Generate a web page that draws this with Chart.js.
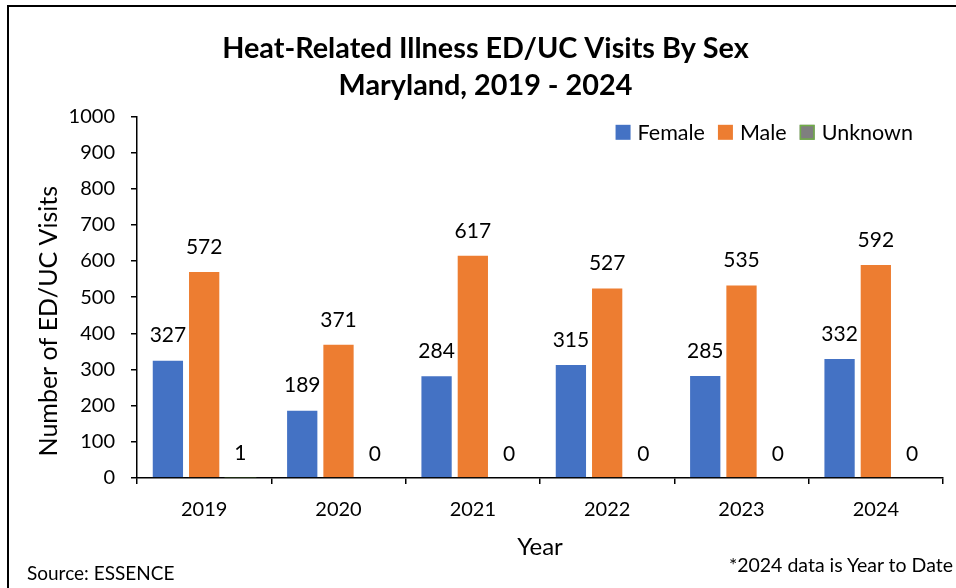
<!DOCTYPE html>
<html><head><meta charset="utf-8">
<script src="https://cdn.jsdelivr.net/npm/chart.js@4.4.1/dist/chart.umd.min.js"></script>
<style>
html,body{margin:0;padding:0;background:#fff;}
#wrap{position:relative;width:956px;height:588px;overflow:hidden;font-family:Lato,sans-serif;}
#frame{position:absolute;left:7px;top:5px;width:980px;height:620px;border-left:2px solid #000;border-top:2px solid #000;box-sizing:border-box;}
canvas{position:absolute;left:0;top:0;}
.note{position:absolute;font-size:19px;color:#000;white-space:nowrap;line-height:22px;}
</style></head>
<body>
<div id="wrap">
<div id="frame"></div>
<canvas id="c" width="956" height="588"></canvas>
<div class="note" style="left:27px;top:562px">Source: ESSENCE</div>
<div class="note" style="right:3px;top:554px;font-size:19.5px">*2024 data is Year to Date</div>
</div>
<script>
const years = ['2019', '2020', '2021', '2022', '2023', '2024'];
const female = [327, 189, 284, 315, 285, 332];
const male = [572, 371, 617, 527, 535, 592];
const unknown = [1, 0, 0, 0, 0, 0];
const seriesNames = ['Female', 'Male', 'Unknown'];
const titleLines = ['Heat-Related Illness ED/UC Visits By Sex', 'Maryland, 2019 - 2024'];
const yTicksMin = 0, yTicksMax = 1000, yTickStep = 100;

Chart.defaults.font.family = 'Lato, sans-serif';
Chart.defaults.color = '#000';

const valueLabels = {
  id: 'valueLabels',
  afterDatasetsDraw(chart) {
    const ctx = chart.ctx;
    ctx.save();
    ctx.font = '21px Lato, sans-serif';
    ctx.fillStyle = '#000';
    ctx.textAlign = 'center';
    ctx.textBaseline = 'middle';
    chart.data.datasets.forEach((ds, i) => {
      chart.getDatasetMeta(i).data.forEach((bar, j) => {
        ctx.fillText(String(ds.data[j]), bar.x, bar.y - 24);
      });
    });
    ctx.restore();
  }
};

// Legend drawn inside the plot area, top right, from the dataset labels/colours
const innerLegend = {
  id: 'innerLegend',
  afterDraw(chart) {
    const ctx = chart.ctx;
    const box = 15, gap = 7, spacing = 13;
    ctx.save();
    ctx.font = '21.5px Lato, sans-serif';
    ctx.textBaseline = 'middle';
    ctx.textAlign = 'left';
    const items = chart.data.datasets.map(ds => ({
      text: ds.label, fill: ds.backgroundColor, stroke: ds.legendBorder || ds.backgroundColor,
      w: ctx.measureText(ds.label).width
    }));
    let total = 0;
    items.forEach((it, i) => { total += box + gap + it.w + (i < items.length - 1 ? spacing : 0); });
    let x = chart.chartArea.right - 30 - total;
    const cy = chart.chartArea.top + 16;
    items.forEach(it => {
      ctx.fillStyle = it.fill;
      ctx.fillRect(x, cy - box / 2, box, box);
      if (it.stroke !== it.fill) {
        ctx.strokeStyle = it.stroke; ctx.lineWidth = 1.5;
        ctx.strokeRect(x + 0.75, cy - box / 2 + 0.75, box - 1.5, box - 1.5);
      }
      x += box + gap;
      ctx.fillStyle = '#000';
      ctx.fillText(it.text, x, cy + 1);
      x += it.w + spacing;
    });
    ctx.restore();
  }
};

// Nudge the chart title and the y-axis title to where the reference places them
const titleNudge = {
  id: 'titleNudge',
  afterLayout(chart) {
    const tb = chart.titleBlock;
    if (tb) { tb.left += 6; tb.right += 6; }
    const ys = chart.scales.y;
    if (ys && !ys._nudged) {
      const orig = ys.drawTitle;
      ys.drawTitle = function () {
        const ctx = this.ctx;
        ctx.save(); ctx.translate(0, 24); orig.apply(this, arguments); ctx.restore();
      };
      ys._nudged = true;
    }
  }
};

new Chart(document.getElementById('c'), {
  type: 'bar',
  data: {
    labels: years,
    datasets: [
      { label: seriesNames[0], data: female, backgroundColor: '#4472C4', borderColor: 'rgba(255,255,255,0.5)', borderWidth: 1 },
      { label: seriesNames[1], data: male, backgroundColor: '#ED7D31', borderColor: 'rgba(255,255,255,0.5)', borderWidth: 1 },
      { label: seriesNames[2], data: unknown, backgroundColor: '#7F7F7F', borderColor: '#70AD47', legendBorder: '#70AD47', borderWidth: 1.5, borderSkipped: false }
    ]
  },
  options: {
    responsive: false,
    animation: false,
    devicePixelRatio: 1,
    categoryPercentage: 0.81,
    barPercentage: 0.89,
    layout: { padding: { left: 16, right: 13, top: 0, bottom: 0 } },
    plugins: {
      title: {
        display: true,
        text: titleLines,
        color: '#000',
        font: { size: 28.8, weight: 'bold', lineHeight: 1.29 },
        padding: { top: 30, bottom: 12 }
      },
      legend: { display: false },
      tooltip: { enabled: false }
    },
    scales: {
      x: {
        offset: true,
        grid: { offset: true, drawOnChartArea: false, tickLength: 6, color: '#000', lineWidth: 1.5 },
        border: { color: '#000', width: 1.5 },
        ticks: { color: '#000', font: { size: 20 }, padding: 14 },
        title: { display: true, text: 'Year', color: '#000', font: { size: 24 }, padding: { top: 10, bottom: 26 } },
        afterFit(s) { s.height = 110; }
      },
      y: {
        min: yTicksMin,
        max: yTicksMax,
        grid: { drawOnChartArea: false, tickLength: 6, color: '#000', lineWidth: 1.5 },
        border: { color: '#000', width: 1.5 },
        ticks: { stepSize: yTickStep, color: '#000', font: { size: 20 }, padding: 16, callback: v => String(v) },
        title: { display: true, text: 'Number of ED/UC Visits', color: '#000', font: { size: 25 }, padding: { top: 18, bottom: 0 } },
        afterFit(s) { s.width = 121; }
      }
    }
  },
  plugins: [valueLabels, innerLegend, titleNudge]
});
</script>
</body></html>
